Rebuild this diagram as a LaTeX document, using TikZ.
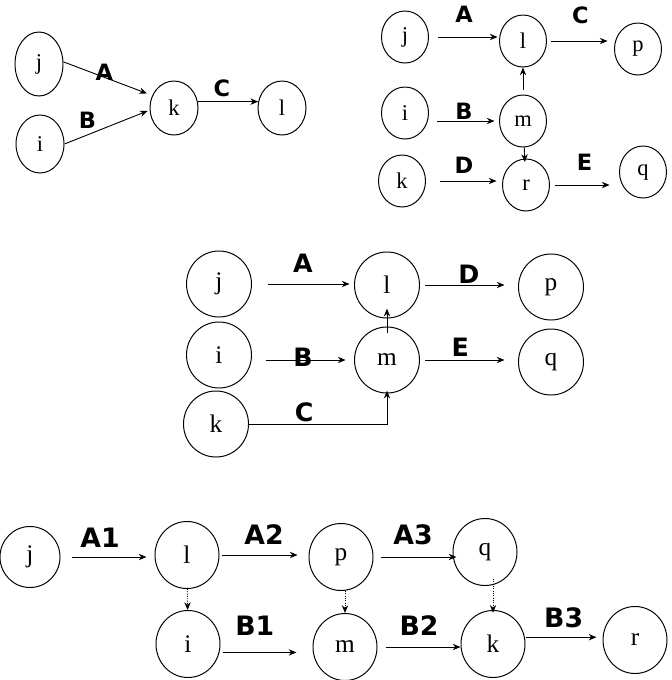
\documentclass[tikz,border=0pt]{standalone}
\usepackage{fontspec}
\setmainfont{Liberation Serif}
\newfontfamily\lblfont{DejaVu Sans}
\usetikzlibrary{arrows.meta, shapes}

\begin{document}
\begin{tikzpicture}[x=0.025cm, y=-0.025cm]
            \useasboundingbox (0,0) rectangle (672,680);

            % top left
            \begin{scope}[every node/.style={ellipse,draw,line width=0.7pt,inner sep=0pt,
                          minimum width=1.2cm,minimum height=1.45cm,font=\fontsize{16}{16}\selectfont}]
                \node[minimum height=1.6cm] (j1) at (39,64) {j};
                \node (i1) at (40,144) {i};
                \node[minimum height=1.35cm] (k1) at (174,108) {k};
                \node[minimum height=1.35cm] (l1) at (282,108) {l};
            \end{scope}
            \begin{scope}[>={Stealth[black,length=5.5pt,width=4.5pt]},
                          every node/.style={inner sep=0pt,font=\lblfont\bfseries\fontsize{16}{16}\selectfont},
                          every edge/.style={draw=black, line width=0.65pt}]
                \path[->] (j1.5) edge[shorten >=4pt] node[pos=0.46,above=-2.5pt] {A} (k1.150);
                \path[->] (i1.east) edge[shorten >=1.5pt] node[pos=0.27,above=4.5pt] {B} (k1.185);
                \path[->] (k1.15) edge node[pos=0.4,above=3pt] {C} (l1.165);
            \end{scope}

            % top right
            \begin{scope}[every node/.style={ellipse,draw,line width=0.7pt,inner sep=0pt,
                          minimum width=1.175cm,minimum height=1.3cm,font=\fontsize{16}{16}\selectfont}]
                \node (j2) at (405,37) {j};
                \node (l2) at (523,41) {l};
                \node (p2) at (638,49) {p};
                \node (i2) at (405,113) {i};
                \node (m2) at (523,121) {m};
                \node (k2) at (402,181) {k};
                \node (r2) at (526,185) {r};
                \node (q2) at (643,172) {q};
            \end{scope}
            \begin{scope}[>={Stealth[black,length=5.5pt,width=4.5pt]},
                          every node/.style={inner sep=0pt,font=\lblfont\bfseries\fontsize{16}{16}\selectfont},
                          every edge/.style={draw=black, line width=0.65pt}]
                \path[->] (j2) edge[shorten <=6.7pt, shorten >=1pt] node[above=10pt] {A} (j2 -| l2.west);
                \path[->] (l2) edge[shorten <=2.5pt, shorten >=4.6pt] node[above=12pt] {C} (l2 -| p2.west);
                \path[->] (m2 -| i2.east) edge[shorten <=6pt, shorten >=3.2pt] node[above=0.5pt] {B} (m2);
                \path[->] (k2) edge[shorten <=10.3pt, shorten >=3.9pt] node[above=5pt] {D} (k2 -| r2.west);
                \path[->] (r2) edge[shorten <=3.9pt, shorten >=6.7pt] node[above=10pt] {E} (r2 -| q2.west);
                \path[->] (m2) edge[shorten <=3pt] (l2);
                \path[->] (m2) edge[shorten >=-2.5pt] (r2);
            \end{scope}

            % middle
            \begin{scope}[every node/.style={ellipse,draw,line width=0.7pt,inner sep=0pt,
                          minimum width=1.625cm,minimum height=1.65cm,font=\fontsize{18}{18}\selectfont}]
                \node (j3) at (219,284) {j};
                \node (l3) at (387,285) {l};
                \node (p3) at (551,287) {p};
                \node (i3) at (219,355) {i};
                \node (m3) at (387,360) {m};
                \node (q3) at (551,362) {q};
                \node (k3) at (216,424) {k};
            \end{scope}
            \begin{scope}[>={Stealth[black,length=5.5pt,width=4.5pt]},
                          every node/.style={inner sep=0pt,font=\lblfont\bfseries\fontsize{18}{18}\selectfont},
                          every edge/.style={draw=black, line width=0.65pt}]
                \path[->] (j3) edge[shorten <=11.7pt, shorten >=3.2pt] node[above=8pt] {A} (j3 -| l3.west);
                \path[->] (l3) edge[shorten <=3.9pt, shorten >=9.6pt] node[above=1pt] {D} (l3 -| p3.west);
                \path[->] (m3 -| i3.east) edge[shorten <=9.6pt, shorten >=6pt] node[above=-5pt] {B} (m3);
                \path[->] (m3) edge[shorten <=3.9pt, shorten >=9.6pt] node[pos=0.41,above=2pt] {E} (m3 -| q3.west);
                \path[->] (m3) edge[shorten <=-4.3pt, shorten >=-7pt] (l3);
                \draw[->, line width=0.65pt, shorten >=-2pt] (k3) -| node[pos=0.2,above=1.5pt] {C} (m3);
            \end{scope}

            % bottom
            \begin{scope}[every node/.style={ellipse,draw,line width=0.7pt,inner sep=0pt,
                          minimum width=1.6cm,minimum height=1.675cm,font=\fontsize{18}{18}\selectfont}]
                \node[minimum width=1.5cm,minimum height=1.525cm] (j4) at (30,557) {j};
                \node (l4) at (187,555) {l};
                \node (p4) at (341,557) {p};
                \node (q4) at (485,552) {q};
                \node (i4) at (188,644) {i};
                \node (m4) at (345,647) {m};
                \node (k4) at (493,644) {k};
                \node (r4) at (635,640) {r};
            \end{scope}
            \begin{scope}[>={Stealth[black,length=5.5pt,width=4.5pt]},
                          every node/.style={inner sep=0pt,font=\lblfont\bfseries\fontsize{19}{19}\selectfont},
                          every edge/.style={draw=black, line width=0.65pt}]
                \path[->] (j4) edge[shorten <=8.5pt, shorten >=5.7pt] node[pos=0.42,above=6.5pt] {A1} (j4 -| l4.west);
                \path[->] (l4) edge[shorten <=2pt, shorten >=7.8pt] node[above=7pt] {A2} (l4 -| p4.west);
                \path[->] (p4) edge[shorten <=5pt, shorten >=-2.8pt] node[above=8.5pt] {A3} (p4 -| q4.west);
                \path[->] (i4.-15) edge[shorten <=2.2pt, shorten >=11.4pt] node[pos=0.38,above=12pt] {B1} (i4.-15 -| m4.west);
                \path[->] (m4) edge[shorten <=5.7pt] node[above=8pt] {B2} (m4 -| k4.west);
                \path[->] (k4.12) edge[shorten <=0.5pt, shorten >=4.3pt] node[above=6pt] {B3} (k4.12 -| r4.west);
                \path[->] (l4) edge[densely dotted] (i4);
                \path[->] (p4.south -| m4) edge[densely dotted] (m4);
                \path[->] (q4.south -| k4) edge[densely dotted, shorten <=-5pt, shorten >=-2pt] (k4);
            \end{scope}

            \end{tikzpicture}
\end{document}
